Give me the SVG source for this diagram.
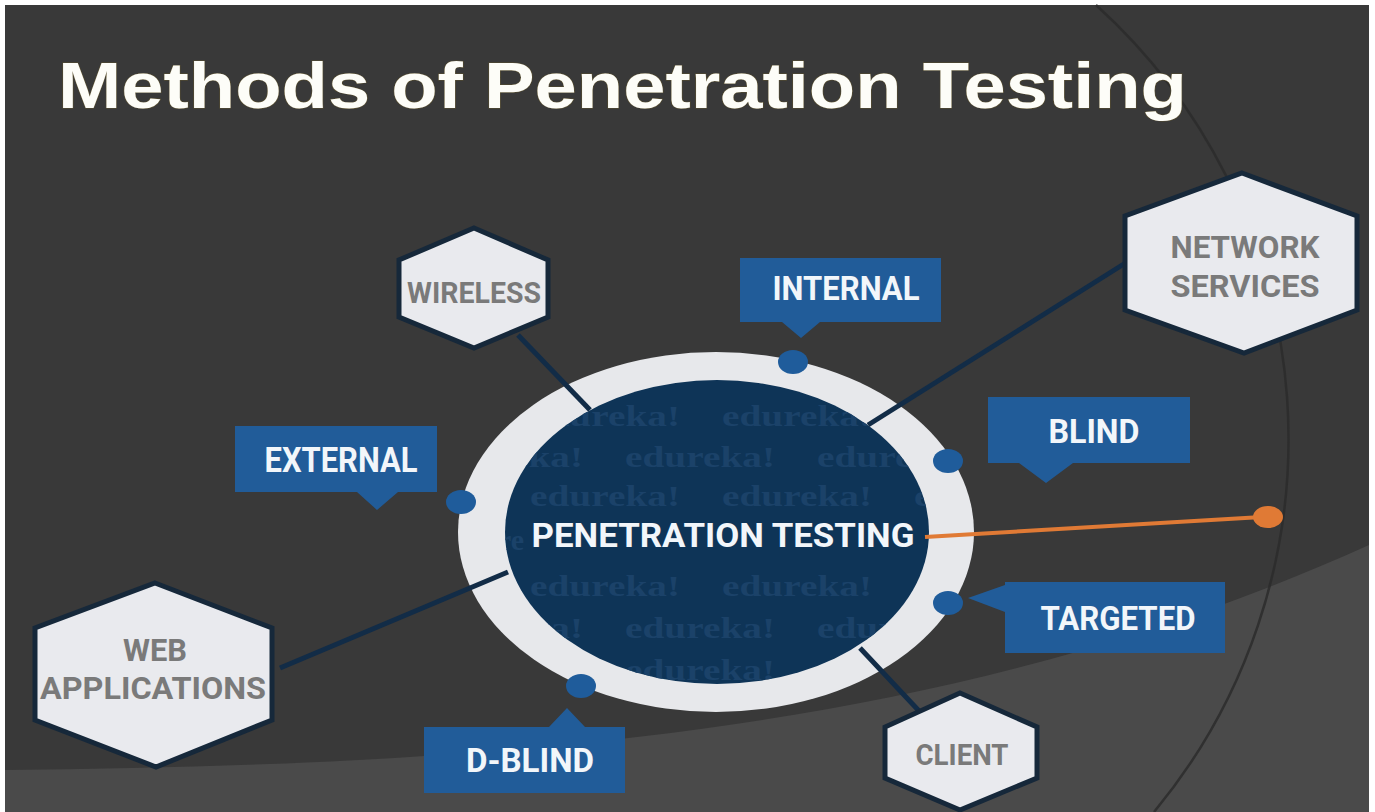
<svg xmlns="http://www.w3.org/2000/svg" width="1375" height="812" viewBox="0 0 1375 812">
<style>
.bg{fill:#393939}
.hex{fill:#e9eaee;stroke:#16283a;stroke-width:5;stroke-linejoin:miter}
.hext{font-family:Roboto,"DejaVu Sans",sans-serif;font-weight:700;fill:#7a7a7a;text-anchor:middle}
.box{fill:#215c99}
.boxt{font-family:Roboto,"DejaVu Sans",sans-serif;font-weight:700;fill:#f2f6fa;text-anchor:middle}
.dot{fill:#1f5c9b}
.conn{stroke:#122c47;stroke-width:5;fill:none}
.wm{font-family:"Liberation Serif",serif;font-weight:700;font-size:30px;fill:#1b4269}
</style>
<defs>
<clipPath id="innerClip"><ellipse cx="717" cy="532" rx="212" ry="152"/></clipPath>
</defs>
<rect x="0" y="0" width="1375" height="812" fill="#ffffff"/>
<g id="background">
<rect x="5" y="5" width="1364" height="807" class="bg"/>
<path d="M5,770 C500,765 950,735 1369,545 L1369,812 L5,812 Z" fill="#4a4a4a"/>
<path d="M1096,5 A585,585 0 0 1 1154,812" fill="none" stroke="#2b2b2b" stroke-width="2.5" opacity="0.85"/>
</g>
<text id="title" x="58" y="108" font-family="'Liberation Sans',Arial,sans-serif" font-weight="700" font-size="64" fill="#fdfdf8" textLength="1129" lengthAdjust="spacingAndGlyphs" style="paint-order:stroke" stroke="#5a5030" stroke-width="1">Methods of Penetration Testing</text>
<g id="center">
<ellipse cx="716" cy="532" rx="258" ry="180" fill="#e7e8eb"/>
<ellipse cx="717" cy="532" rx="212" ry="152" fill="#0e3457"/>
<g clip-path="url(#innerClip)">
<text class="wm" y="426"><tspan x="530" textLength="150" lengthAdjust="spacingAndGlyphs">edureka!</tspan><tspan x="722" textLength="150" lengthAdjust="spacingAndGlyphs">edureka!</tspan></text>
<text class="wm" y="467"><tspan x="433" textLength="150" lengthAdjust="spacingAndGlyphs">edureka!</tspan><tspan x="625" textLength="150" lengthAdjust="spacingAndGlyphs">edureka!</tspan><tspan x="817" textLength="150" lengthAdjust="spacingAndGlyphs">edureka!</tspan></text>
<text class="wm" y="506"><tspan x="530" textLength="150" lengthAdjust="spacingAndGlyphs">edureka!</tspan><tspan x="722" textLength="150" lengthAdjust="spacingAndGlyphs">edureka!</tspan><tspan x="914" textLength="150" lengthAdjust="spacingAndGlyphs">edureka!</tspan></text>
<text class="wm" x="498" y="550">re</text>
<text class="wm" y="596"><tspan x="530" textLength="150" lengthAdjust="spacingAndGlyphs">edureka!</tspan><tspan x="722" textLength="150" lengthAdjust="spacingAndGlyphs">edureka!</tspan><tspan x="914" textLength="150" lengthAdjust="spacingAndGlyphs">edureka!</tspan></text>
<text class="wm" y="638"><tspan x="433" textLength="150" lengthAdjust="spacingAndGlyphs">edureka!</tspan><tspan x="625" textLength="150" lengthAdjust="spacingAndGlyphs">edureka!</tspan><tspan x="817" textLength="150" lengthAdjust="spacingAndGlyphs">edureka!</tspan></text>
<text class="wm" y="680"><tspan x="433" textLength="150" lengthAdjust="spacingAndGlyphs">edureka!</tspan><tspan x="625" textLength="150" lengthAdjust="spacingAndGlyphs">edureka!</tspan></text>
</g>
</g>
<g id="connectors">
<line class="conn" x1="518" y1="335" x2="590" y2="410"/>
<line class="conn" x1="1127" y1="262" x2="868" y2="425"/>
<line class="conn" x1="280" y1="668" x2="508" y2="572"/>
<line class="conn" x1="860" y1="648" x2="920" y2="712"/>
<line x1="925" y1="537" x2="1262" y2="517" stroke="#e07a35" stroke-width="4"/>
<ellipse cx="1268" cy="517" rx="15" ry="11" fill="#e07a35"/>
</g>
<text id="center-label" class="boxt" x="723" y="547" font-size="34" textLength="383" lengthAdjust="spacingAndGlyphs">PENETRATION TESTING</text>
<g id="wireless">
<polygon class="hex" points="474,228 548,260 548,317 474,348 399,317 399,260"/>
<text class="hext" x="474" y="303" font-size="29" textLength="134" lengthAdjust="spacingAndGlyphs">WIRELESS</text>
</g>
<g id="network-services">
<polygon class="hex" points="1242,173 1357,216 1357,310 1244,353 1125,310 1125,216"/>
<text class="hext" x="1245" y="258" font-size="31" textLength="149" lengthAdjust="spacingAndGlyphs">NETWORK</text>
<text class="hext" x="1245" y="297" font-size="31" textLength="149" lengthAdjust="spacingAndGlyphs">SERVICES</text>
</g>
<g id="web-applications">
<polygon class="hex" points="155,583 272,628 272,720 156,767 35,720 35,628"/>
<text class="hext" x="155" y="661" font-size="31" textLength="64" lengthAdjust="spacingAndGlyphs">WEB</text>
<text class="hext" x="153" y="699" font-size="31" textLength="226" lengthAdjust="spacingAndGlyphs">APPLICATIONS</text>
</g>
<g id="client">
<polygon class="hex" points="960,693 1037,727 1037,778 960,810 885,778 885,727"/>
<text class="hext" x="962" y="765" font-size="30" textLength="93" lengthAdjust="spacingAndGlyphs">CLIENT</text>
</g>
<g id="internal">
<path class="box" d="M740,258 H941 V322 H820 L801,338 L782,322 H740 Z"/>
<ellipse class="dot" cx="793" cy="362" rx="15" ry="12"/>
<text class="boxt" x="846" y="300" font-size="34" textLength="147" lengthAdjust="spacingAndGlyphs">INTERNAL</text>
</g>
<g id="blind">
<path class="box" d="M988,397 H1190 V463 H1073 L1046,483 L1019,463 H988 Z"/>
<ellipse class="dot" cx="948" cy="461" rx="15" ry="12"/>
<text class="boxt" x="1094" y="443" font-size="33" textLength="91" lengthAdjust="spacingAndGlyphs">BLIND</text>
</g>
<g id="external">
<path class="box" d="M235,426 H437 V492 H398 L377,510 L357,492 H235 Z"/>
<ellipse class="dot" cx="461" cy="502" rx="15" ry="12"/>
<text class="boxt" x="341" y="472" font-size="35" textLength="153" lengthAdjust="spacingAndGlyphs">EXTERNAL</text>
</g>
<g id="targeted">
<path class="box" d="M1005,582 H1225 V653 H1005 V612 L968,598 L1005,585 Z"/>
<ellipse class="dot" cx="948" cy="603" rx="15" ry="12"/>
<text class="boxt" x="1118" y="630" font-size="33" textLength="155" lengthAdjust="spacingAndGlyphs">TARGETED</text>
</g>
<g id="d-blind">
<path class="box" d="M424,727 H549 L567,708 L585,727 H625 V793 H424 Z"/>
<ellipse class="dot" cx="581" cy="686" rx="15" ry="12"/>
<text class="boxt" x="530" y="772" font-size="34" textLength="128" lengthAdjust="spacingAndGlyphs">D-BLIND</text>
</g>
</svg>
